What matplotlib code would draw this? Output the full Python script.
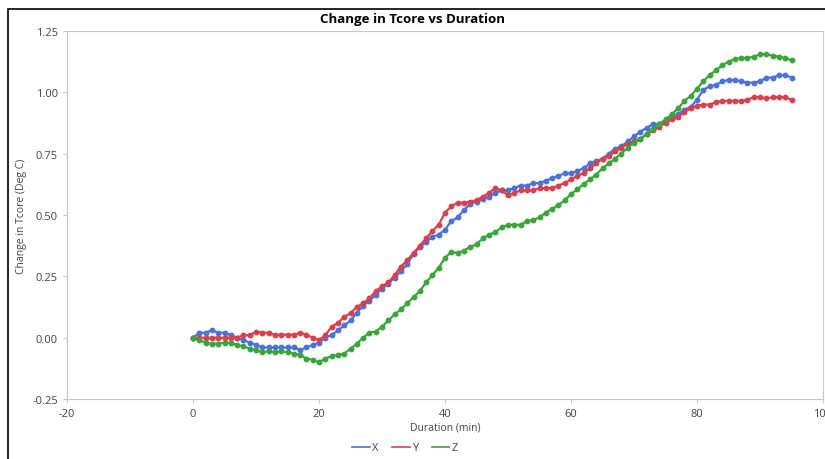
import numpy as np
import matplotlib
matplotlib.use("Agg")
import matplotlib.pyplot as plt
from matplotlib.patches import Rectangle

plt.rcParams["font.family"] = ["Open Sans", "DejaVu Sans"]
plt.rcParams["axes.unicode_minus"] = False

# Datos (minutos 0..95)
duration = np.arange(0, 96)

x_vals = [0.00, 0.02, 0.02, 0.03, 0.02, 0.02, 0.01, 0.00, -0.01, -0.02,
          -0.03, -0.04, -0.04, -0.04, -0.04, -0.04, -0.04, -0.05, -0.04, -0.03,
          -0.02, 0.00, 0.01, 0.03, 0.05, 0.07, 0.10, 0.13, 0.15, 0.175,
          0.20, 0.22, 0.245, 0.27, 0.30, 0.34, 0.37, 0.39, 0.41, 0.42,
          0.44, 0.475, 0.49, 0.52, 0.545, 0.555, 0.565, 0.575, 0.59, 0.60,
          0.60, 0.61, 0.62, 0.62, 0.63, 0.63, 0.64, 0.65, 0.66, 0.67,
          0.67, 0.68, 0.69, 0.71, 0.72, 0.73, 0.75, 0.77, 0.78, 0.80,
          0.82, 0.84, 0.855, 0.87, 0.87, 0.88, 0.895, 0.91, 0.93, 0.94,
          0.97, 1.01, 1.025, 1.03, 1.045, 1.05, 1.05, 1.045, 1.04, 1.04,
          1.045, 1.06, 1.06, 1.07, 1.07, 1.06]

y_vals = [0.00, 0.00, 0.00, 0.00, 0.00, 0.00, 0.00, 0.00, 0.01, 0.01,
          0.025, 0.02, 0.02, 0.012, 0.012, 0.012, 0.012, 0.02, 0.012, 0.00,
          -0.01, 0.01, 0.045, 0.06, 0.085, 0.10, 0.125, 0.14, 0.16, 0.19,
          0.21, 0.225, 0.255, 0.29, 0.315, 0.345, 0.375, 0.405, 0.435, 0.46,
          0.51, 0.535, 0.55, 0.55, 0.555, 0.56, 0.575, 0.59, 0.61, 0.60,
          0.58, 0.59, 0.60, 0.60, 0.60, 0.61, 0.61, 0.61, 0.62, 0.63,
          0.645, 0.66, 0.67, 0.69, 0.71, 0.73, 0.74, 0.76, 0.775, 0.79,
          0.80, 0.81, 0.83, 0.845, 0.86, 0.875, 0.89, 0.90, 0.92, 0.935,
          0.945, 0.95, 0.95, 0.96, 0.965, 0.965, 0.965, 0.965, 0.97, 0.98,
          0.98, 0.975, 0.98, 0.98, 0.98, 0.97]

z_vals = [0.00, -0.01, -0.02, -0.025, -0.025, -0.02, -0.02, -0.03, -0.035, -0.045,
          -0.05, -0.06, -0.055, -0.06, -0.055, -0.06, -0.065, -0.07, -0.085, -0.09,
          -0.10, -0.085, -0.075, -0.07, -0.065, -0.045, -0.025, 0.00, 0.02, 0.025,
          0.045, 0.07, 0.095, 0.115, 0.14, 0.165, 0.19, 0.225, 0.255, 0.285,
          0.325, 0.35, 0.345, 0.355, 0.37, 0.38, 0.405, 0.42, 0.43, 0.45,
          0.46, 0.46, 0.46, 0.475, 0.48, 0.49, 0.51, 0.525, 0.54, 0.56,
          0.585, 0.605, 0.625, 0.645, 0.665, 0.69, 0.71, 0.73, 0.75, 0.775,
          0.795, 0.81, 0.83, 0.85, 0.87, 0.89, 0.91, 0.935, 0.965, 0.985,
          1.015, 1.045, 1.07, 1.09, 1.11, 1.125, 1.135, 1.14, 1.14, 1.145,
          1.155, 1.155, 1.15, 1.145, 1.14, 1.13]

series = [("X", x_vals, "#4a72d9"), ("Y", y_vals, "#d8404e"), ("Z", z_vals, "#3aa53a")]

x_ticks = [-20, 0, 20, 40, 60, 80, 100]
y_ticks = [-0.25, 0.00, 0.25, 0.50, 0.75, 1.00, 1.25]

fig = plt.figure(figsize=(8.25, 4.6), dpi=100)
W, H = 825, 460
ax = fig.add_axes([67 / W, 1 - 400 / H, (823 - 67) / W, (400 - 32) / H])

# Marco exterior
fig.patches.append(Rectangle((8 / W, -0.05), 1.0, 1 - 10 / H + 0.05,
                             transform=fig.transFigure, fill=False,
                             edgecolor="black", linewidth=1.2))

for name, vals, col in series:
    ax.plot(duration, vals, color=col, linewidth=1.6, marker="o",
            markersize=3.2, label=name)

ax.set_xlim(-20, 100)
ax.set_ylim(-0.25, 1.25)
ax.set_xticks(x_ticks)
ax.set_yticks(y_ticks)
ax.set_yticklabels([f"{v:.2f}" for v in y_ticks])
for s in ax.spines.values():
    s.set_color("#c8c8c8")
ax.tick_params(colors="#c8c8c8", labelcolor="#444444", labelsize=8, length=3)

fig.text(412 / W, 1 - 20 / H, "Change in Tcore vs Duration", ha="center",
         va="center", fontsize=9.5, fontweight="bold")
ax.set_xlabel("Duration (min)", fontsize=7.5, color="#444444", labelpad=2)
ax.set_ylabel("Change in Tcore (Deg C)", fontsize=7.5, color="#444444", labelpad=4)

leg = fig.legend(loc="center", bbox_to_anchor=(405 / W, 1 - 449 / H), ncol=3,
                 frameon=False, fontsize=8, handlelength=1.6, handletextpad=0.2,
                 columnspacing=1.2)
for h in leg.legend_handles:
    h.set_marker("")
    h.set_linewidth(1.2)
for t in leg.get_texts():
    t.set_color("#444444")

fig.savefig("out.png", dpi=100)
